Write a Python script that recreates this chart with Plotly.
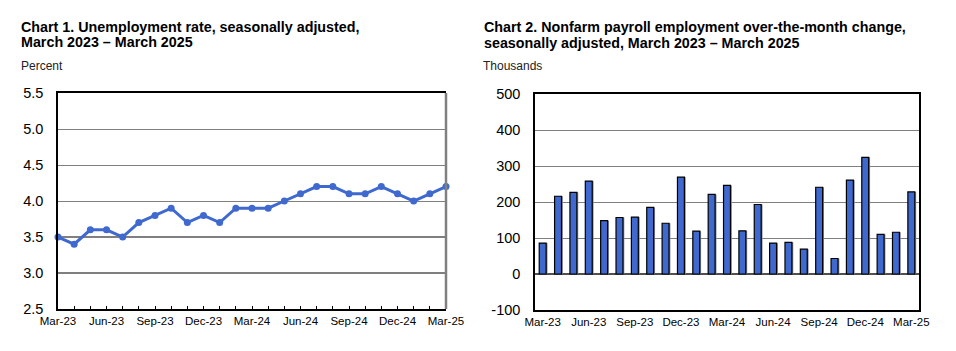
import plotly.graph_objects as go

months = ["Mar-23","Apr-23","May-23","Jun-23","Jul-23","Aug-23","Sep-23","Oct-23","Nov-23","Dec-23",
          "Jan-24","Feb-24","Mar-24","Apr-24","May-24","Jun-24","Jul-24","Aug-24","Sep-24","Oct-24",
          "Nov-24","Dec-24","Jan-25","Feb-25","Mar-25"]
unemployment_rate = [3.5,3.4,3.6,3.6,3.5,3.7,3.8,3.9,3.7,3.8,3.7,3.9,3.9,3.9,4.0,4.1,4.2,4.2,4.1,4.1,4.2,4.1,4.0,4.1,4.2]
payroll_change = [86,216,227,258,148,157,158,185,141,269,119,221,246,120,193,86,88,69,241,43,261,324,110,116,228]

y1_ticks = [2.5,3.0,3.5,4.0,4.5,5.0,5.5]
y2_ticks = [-100,0,100,200,300,400,500]

idx = list(range(len(months)))
label_every = 3
tick_text = [m if i % label_every == 0 else "" for i, m in enumerate(months)]
lab_vals = [i for i in idx if i % label_every == 0]
lab_text = [months[i] for i in lab_vals]

BLUE = "#3F69CF"
FONT = "Liberation Sans, Arial, sans-serif"

fig = go.Figure()

fig.add_trace(go.Scatter(
    x=idx, y=unemployment_rate, mode="lines+markers",
    line=dict(color=BLUE, width=3), marker=dict(color=BLUE, size=7),
    cliponaxis=False, xaxis="x", yaxis="y", showlegend=False))

# bar shadow
fig.add_trace(go.Bar(
    x=idx, y=payroll_change, width=0.45, offset=-0.225 + 0.09,
    marker=dict(color="#8a8a8a", line=dict(width=0)),
    xaxis="x2", yaxis="y2", showlegend=False))
fig.add_trace(go.Bar(
    x=idx, y=payroll_change, width=0.45, offset=-0.225,
    marker=dict(color=BLUE, line=dict(color="black", width=1.2)),
    xaxis="x2", yaxis="y2", showlegend=False))

fig.update_layout(
    width=956, height=351, margin=dict(l=0, r=0, t=0, b=0, autoexpand=False),
    paper_bgcolor="white", plot_bgcolor="white",
    font=dict(family=FONT, color="black"),
    barmode="overlay",
    xaxis=dict(domain=[58/956, 446/956], range=[0, 24], tickmode="array",
               tickvals=idx, ticktext=tick_text, ticks="inside", ticklen=3,
               tickcolor="black", showgrid=False, zeroline=False, automargin=False,
               showline=True, linecolor="black", linewidth=1.5, mirror=True,
               tickfont=dict(size=11.5), anchor="y"),
    yaxis=dict(domain=[42/351, 258/351], range=[2.5, 5.5], tickmode="array",
               tickvals=y1_ticks, ticktext=[f"{v:.1f}" for v in y1_ticks],
               showgrid=True, gridcolor="#808080", gridwidth=1, zeroline=False,
               showline=True, linecolor="black", linewidth=1.5, automargin=False,
               ticks="", ticklabelstandoff=10, tickfont=dict(size=14.5), anchor="x"),
    xaxis2=dict(domain=[535/956, 919/956], range=[-0.5, 24.5], tickmode="array",
                tickvals=lab_vals, ticktext=lab_text, ticks="", automargin=False,
                showgrid=False, zeroline=False, showline=True, linecolor="black",
                linewidth=1.5, mirror=True, tickfont=dict(size=11.5), anchor="y2"),
    yaxis2=dict(domain=[41/351, 257/351], range=[-100, 500], tickmode="array",
                tickvals=y2_ticks, ticktext=[str(v) for v in y2_ticks],
                showgrid=True, gridcolor="#808080", gridwidth=1, automargin=False,
                zeroline=True, zerolinecolor="#505050", zerolinewidth=2,
                showline=True, linecolor="black", linewidth=1.5, mirror=True,
                ticks="", ticklabelstandoff=10, tickfont=dict(size=14.5), anchor="x2"),
)

shapes = []
# right frame of chart 1 (gray)
shapes.append(dict(type="line", xref="x domain", yref="y domain", x0=1, x1=1, y0=0, y1=1,
                   line=dict(color="#808080", width=2.5)))
# darker gridlines at lower values of chart 1
for v in y1_ticks[1:3]:
    shapes.append(dict(type="line", xref="x domain", yref="y", x0=0, x1=1, y0=v, y1=v,
                       line=dict(color="black", width=1.2), layer="below"))
fig.update_layout(shapes=shapes)

ann = [
    dict(text="<b>Chart 1. Unemployment rate, seasonally adjusted,</b>", x=19/956, y=1-16.5/351),
    dict(text="<b>March 2023 – March 2025</b>", x=19/956, y=1-32.5/351),
    dict(text="<b>Chart 2. Nonfarm payroll employment over-the-month change,</b>", x=482/956, y=1-16.5/351),
    dict(text="<b>seasonally adjusted, March 2023 – March 2025</b>", x=482/956, y=1-32.5/351),
]
annotations = []
for a in ann:
    annotations.append(dict(text=a["text"], x=a["x"], y=a["y"], xref="paper", yref="paper",
                            xanchor="left", yanchor="top", showarrow=False,
                            font=dict(size=14.3, family=FONT, color="black")))
for t, x in [("Percent", 19/956), ("Thousands", 481/956)]:
    annotations.append(dict(text=t, x=x, y=1-66/351, xref="paper", yref="paper",
                            xanchor="left", yanchor="middle", showarrow=False,
                            font=dict(size=12, family=FONT, color="#222222")))
fig.update_layout(annotations=annotations)

fig.write_html("out.html")
